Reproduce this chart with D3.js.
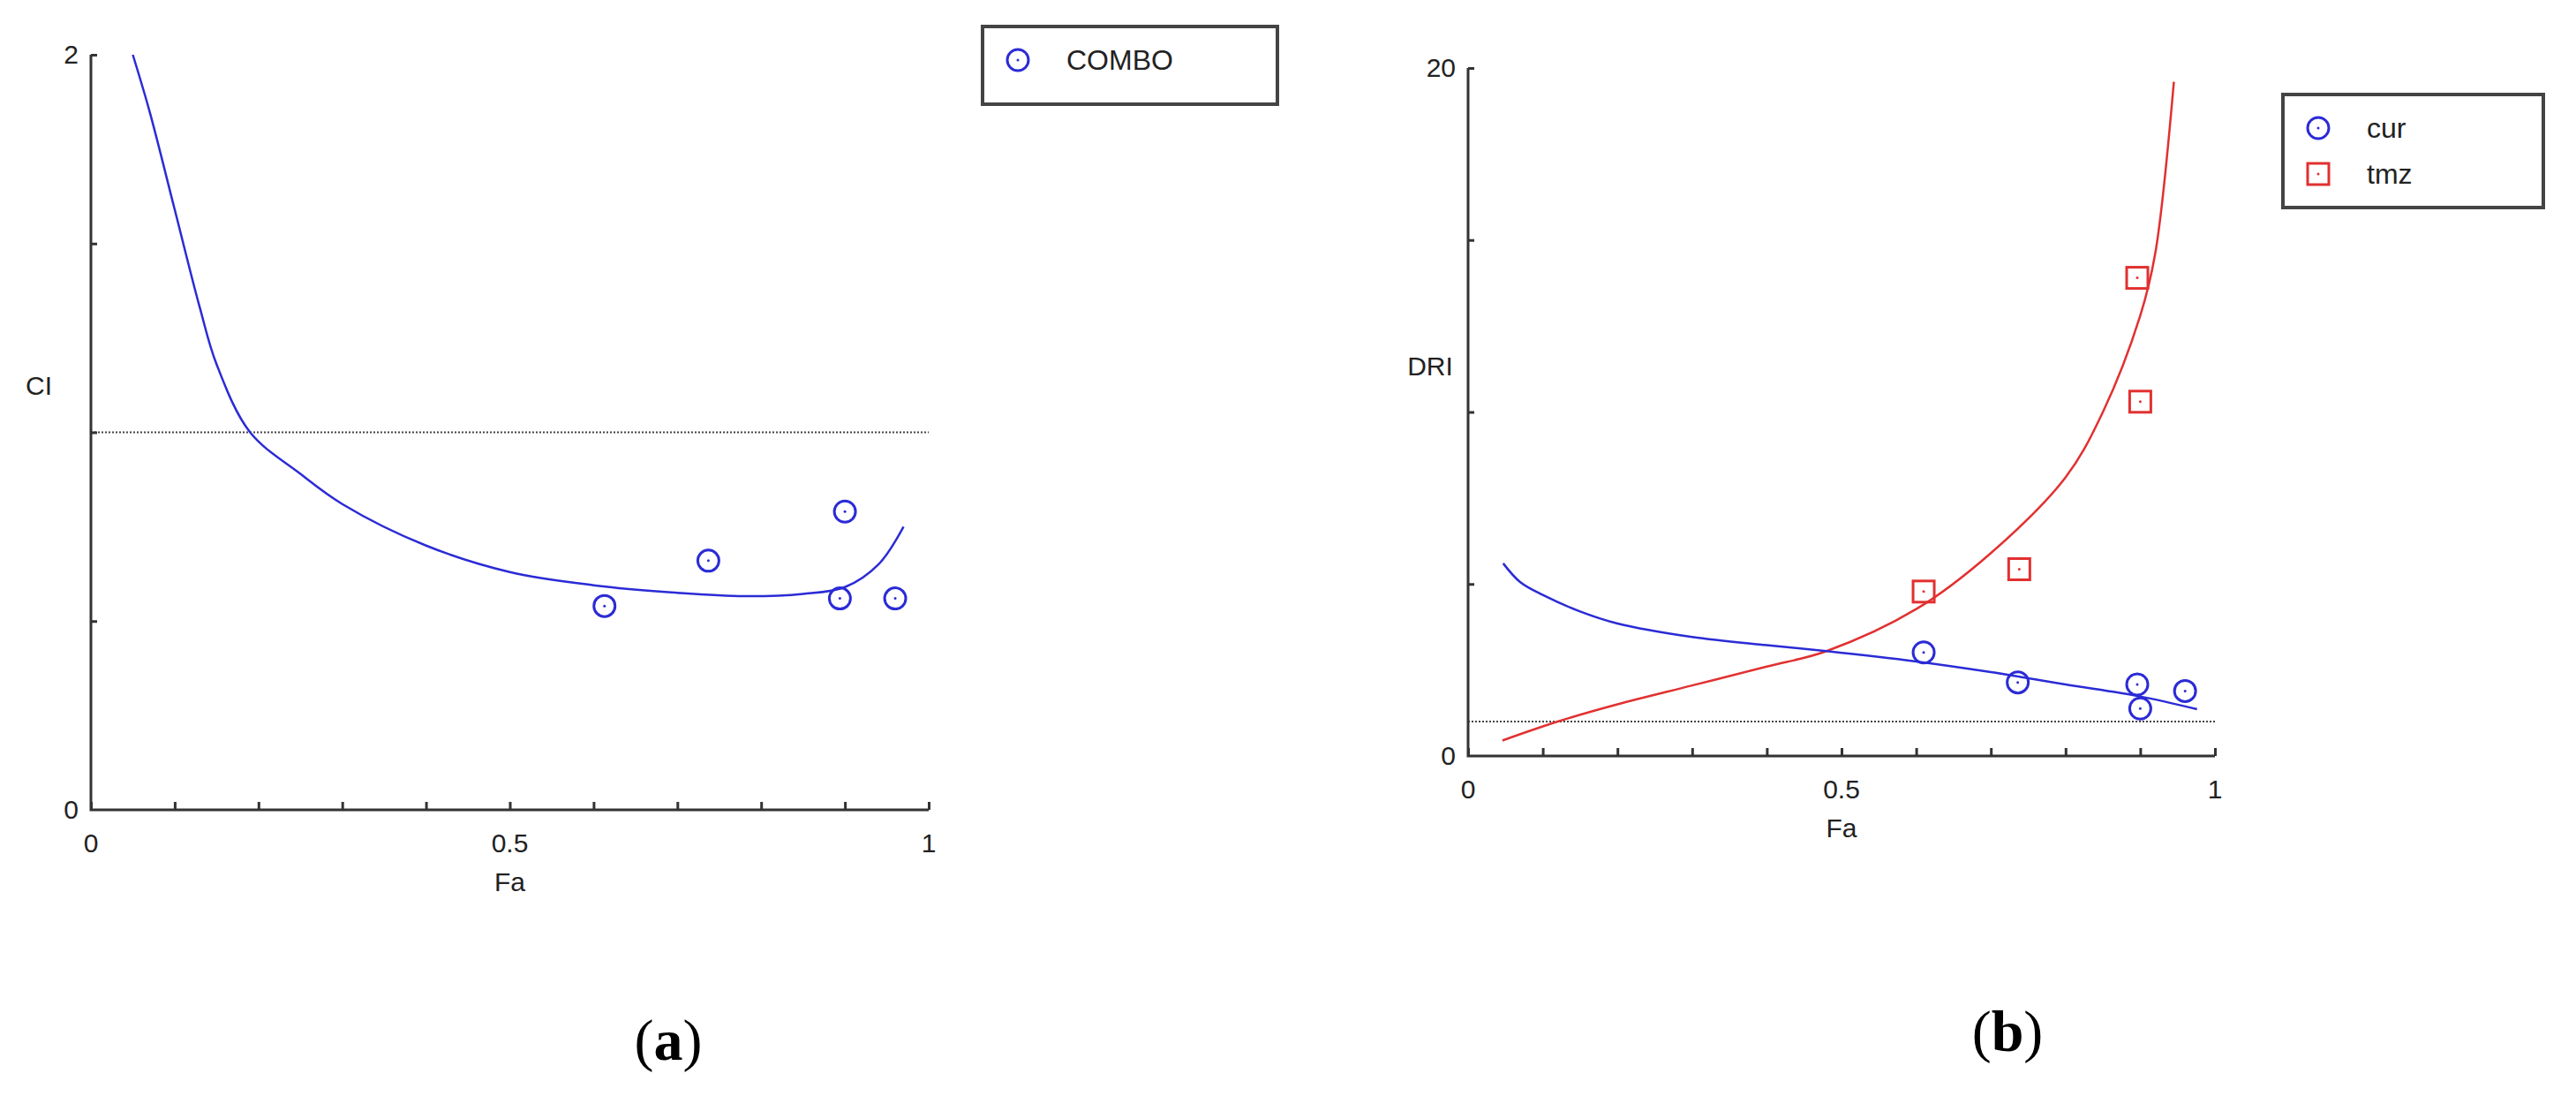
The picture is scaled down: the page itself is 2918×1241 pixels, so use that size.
<!DOCTYPE html>
<html>
<head>
<meta charset="utf-8">
<script src="https://cdn.jsdelivr.net/npm/d3@7"></script>
<style>
  body { margin: 0; background: #fff; }
  text { font-family: "Liberation Sans", Arial, sans-serif; fill: #222; }
</style>
</head>
<body>
<svg id="chart" width="2918" height="1241"></svg>
<script>
// ---- data ----
// panel (a): combination index vs fraction affected
const ciCurve = [[0.05,2.0],[0.07,1.85],[0.1,1.59],[0.13,1.33],[0.15,1.18],[0.19,1.0],[0.25,0.89],[0.3,0.81],[0.4,0.70],[0.5,0.63],[0.6,0.595],[0.7,0.575],[0.78,0.566],[0.85,0.572],[0.9,0.59],[0.94,0.65],[0.97,0.75]];
const ciPoints = [[0.613,0.54],[0.737,0.66],[0.90,0.79],[0.894,0.56],[0.96,0.56]];
const aXTicks = [0, 0.5, 1];
const aYTicks = [0, 2];

// panel (b): dose reduction index vs fraction affected
const curCurve = [[0.047,5.6],[0.07,5.05],[0.1,4.68],[0.15,4.2],[0.2,3.85],[0.3,3.46],[0.4,3.22],[0.48,3.05],[0.6,2.75],[0.7,2.44],[0.8,2.08],[0.9,1.73],[0.976,1.36]];
const tmzCurve = [[0.046,0.45],[0.12,1.0],[0.2,1.5],[0.3,2.05],[0.4,2.6],[0.48,3.05],[0.6,4.27],[0.7,5.9],[0.8,8.1],[0.85,10.0],[0.9,12.8],[0.92,14.6],[0.945,19.6]];
const curPoints = [[0.61,3.01],[0.736,2.14],[0.896,2.08],[0.90,1.38],[0.96,1.89]];
const tmzPoints = [[0.61,4.78],[0.738,5.43],[0.896,13.9],[0.90,10.3]];
const bXTicks = [0, 0.5, 1];
const bYTicks = [0, 20];

const blue = "#2b2bd6", red = "#e23030";
const svg = d3.select("#chart");

function panel(o) {
  const x = d3.scaleLinear().domain([0, 1]).range([o.x0, o.x1]);
  const y = d3.scaleLinear().domain(o.yDomain).range([o.y1, o.y0]);
  const g = svg.append("g");

  // reference line
  g.append("line")
    .attr("x1", x(0)).attr("x2", x(1))
    .attr("y1", y(1)).attr("y2", y(1))
    .attr("stroke", "#444").attr("stroke-width", 2).attr("stroke-dasharray", "2,2");

  // axes
  const xa = g.append("g").attr("transform", `translate(0,${o.y1})`)
    .call(d3.axisBottom(x).tickValues(d3.range(0, 1.001, 0.1)).tickSize(-9).tickFormat(""));
  const ya = g.append("g").attr("transform", `translate(${o.x0},0)`)
    .call(d3.axisLeft(y).tickValues(o.yMinor).tickSize(-7).tickFormat(""));
  [xa, ya].forEach(a => {
    a.selectAll("path, line").attr("stroke", "#333").attr("stroke-width", 3);
    a.select(".domain").attr("d", null);
  });
  g.append("path")
    .attr("d", `M${o.x0},${o.y0}V${o.y1}H${o.x1}`)
    .attr("fill", "none").attr("stroke", "#333").attr("stroke-width", 3);

  o.xTicks.forEach(t => g.append("text")
    .attr("x", x(t)).attr("y", o.y1 + 48).attr("text-anchor", "middle")
    .style("font-size", "30px").text(t));
  o.yTicks.forEach(t => g.append("text")
    .attr("x", o.x0 - 14).attr("y", y(t) + 10).attr("text-anchor", "end")
    .style("font-size", "30px").text(t));
  g.append("text").attr("x", (o.x0 + o.x1) / 2).attr("y", o.y1 + 92)
    .attr("text-anchor", "middle").style("font-size", "30px").text("Fa");
  g.append("text").attr("x", o.yLabelX).attr("y", o.yLabelY)
    .attr("text-anchor", "middle").style("font-size", "30px").text(o.yLabel);

  const line = d3.line().x(d => x(d[0])).y(d => y(d[1])).curve(d3.curveCatmullRom);
  o.series.forEach(s => {
    g.append("path").datum(s.curve).attr("d", line)
      .attr("fill", "none").attr("stroke", s.color).attr("stroke-width", 2.5);
    s.points.forEach(p => drawMarker(g, x(p[0]), y(p[1]), s));
  });

  // caption
  const cap = svg.append("text").attr("x", o.capX).attr("y", o.capY)
    .attr("text-anchor", "middle")
    .style("font-family", "'Liberation Serif', serif").style("font-size", "66px").style("fill", "#000");
  cap.append("tspan").text("(");
  cap.append("tspan").style("font-weight", "bold").text(o.cap);
  cap.append("tspan").text(")");
  return { x, y };
}

function drawMarker(g, cx, cy, s) {
  if (s.shape === "circle") {
    g.append("circle").attr("cx", cx).attr("cy", cy).attr("r", 12)
      .attr("fill", "none").attr("stroke", s.color).attr("stroke-width", 3);
  } else {
    g.append("rect").attr("x", cx - 12).attr("y", cy - 12).attr("width", 24).attr("height", 24)
      .attr("fill", "none").attr("stroke", s.color).attr("stroke-width", 3);
  }
  g.append("circle").attr("cx", cx).attr("cy", cy).attr("r", 1.5).attr("fill", s.color);
}

function legend(x0, y0, w, h, items) {
  const g = svg.append("g");
  g.append("rect").attr("x", x0).attr("y", y0).attr("width", w).attr("height", h)
    .attr("fill", "#fff").attr("stroke", "#444").attr("stroke-width", 4);
  items.forEach((s, i) => {
    const cy = y0 + 38 + i * 52;
    drawMarker(g, x0 + 40, cy, s);
    g.append("text").attr("x", x0 + 95).attr("y", cy + 11)
      .style("font-size", "32px").text(s.name);
  });
}

const comboS = { name: "COMBO", color: blue, shape: "circle", curve: ciCurve, points: ciPoints };
const curS = { name: "cur", color: blue, shape: "circle", curve: curCurve, points: curPoints };
const tmzS = { name: "tmz", color: red, shape: "square", curve: tmzCurve, points: tmzPoints };

panel({ x0: 103, x1: 1052, y0: 62, y1: 917, yDomain: [0, 2], yMinor: [0.5, 1, 1.5, 2],
  xTicks: aXTicks, yTicks: aYTicks, yLabel: "CI", yLabelX: 44, yLabelY: 447,
  series: [comboS], cap: "a", capX: 757, capY: 1200 });
legend(1113, 30, 334, 88, [comboS]);

panel({ x0: 1663, x1: 2509, y0: 77, y1: 856, yDomain: [0, 20], yMinor: [5, 10, 15, 20],
  xTicks: bXTicks, yTicks: bYTicks, yLabel: "DRI", yLabelX: 1620, yLabelY: 425,
  series: [tmzS, curS], cap: "b", capX: 2274, capY: 1190 });
legend(2586, 107, 295, 128, [curS, tmzS]);
</script>
</body>
</html>
